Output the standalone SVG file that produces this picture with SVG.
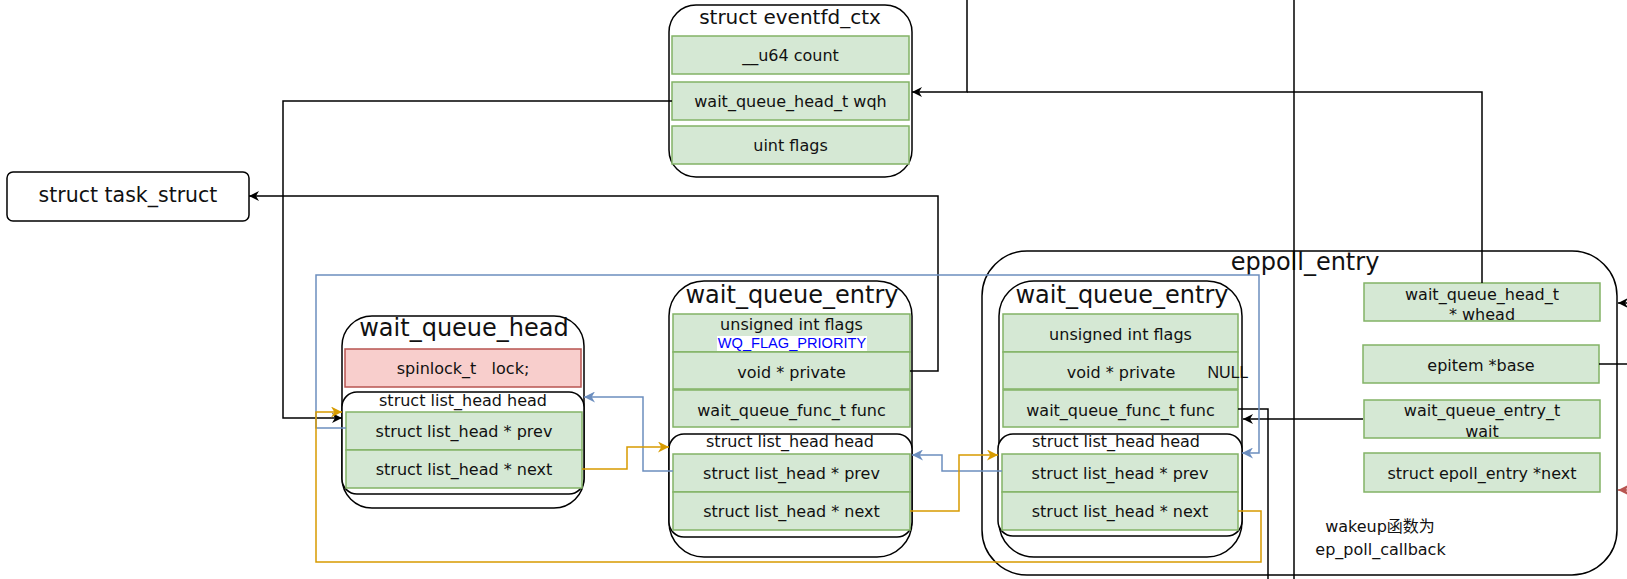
<svg xmlns="http://www.w3.org/2000/svg" width="1627" height="579" viewBox="0 0 1627 579">
<defs>
<style>
.box{fill:#fff;stroke:#000;stroke-width:1.5}
.row{fill:#d5e8d4;stroke:#82b366;stroke-width:1.5}
.red{fill:#f8cecc;stroke:#b85450;stroke-width:1.5}
.t{font-family:"DejaVu Sans","Noto Sans CJK SC",sans-serif;font-size:16px;fill:#111;text-anchor:middle}
.t20{font-size:20px}
.t24{font-size:24px}
.ln{fill:none;stroke:#000;stroke-width:1.5}
.bl{fill:none;stroke:#6c8ebf;stroke-width:1.5}
.or{fill:none;stroke:#d79b00;stroke-width:1.5}
.rd{fill:none;stroke:#b85450;stroke-width:1.5}
</style>
<marker id="aK" viewBox="0 0 10 10" refX="10" refY="5" markerWidth="11" markerHeight="10" markerUnits="userSpaceOnUse" orient="auto"><path d="M0,0 L10,5 L0,10 L3,5 Z" fill="#000"/></marker>
<marker id="aB" viewBox="0 0 10 10" refX="10" refY="5" markerWidth="11" markerHeight="11" markerUnits="userSpaceOnUse" orient="auto"><path d="M0,0 L10,5 L0,10 L3,5 Z" fill="#6c8ebf"/></marker>
<marker id="aO" viewBox="0 0 10 10" refX="10" refY="5" markerWidth="11" markerHeight="11" markerUnits="userSpaceOnUse" orient="auto"><path d="M0,0 L10,5 L0,10 L3,5 Z" fill="#d79b00"/></marker>
<marker id="aR" viewBox="0 0 10 10" refX="10" refY="5" markerWidth="11" markerHeight="11" markerUnits="userSpaceOnUse" orient="auto"><path d="M0,0 L10,5 L0,10 L3,5 Z" fill="#b85450"/></marker>
</defs>
<rect width="1627" height="579" fill="#fff"/>

<g id="eventfd_ctx">
<rect class="box" x="669" y="5" width="243" height="172" rx="27"/>
<text class="t t20" x="790" y="24">struct eventfd_ctx</text>
<rect class="row" x="672" y="36" width="237" height="38"/>
<text class="t" x="790.5" y="61">__u64 count</text>
<rect class="row" x="672" y="82" width="237" height="38"/>
<text class="t" x="790.5" y="107">wait_queue_head_t wqh</text>
<rect class="row" x="672" y="126" width="237" height="38"/>
<text class="t" x="790.5" y="151">uint flags</text>
</g>

<g id="task_struct">
<rect class="box" x="7" y="172" width="242" height="49" rx="6"/>
<text class="t" style="font-size:20.5px" x="128" y="202">struct task_struct</text>
</g>

<g id="wait_queue_head">
<rect class="box" x="342" y="316" width="242" height="192" rx="30"/>
<text class="t t24" x="464" y="336">wait_queue_head</text>
<rect class="red" x="345" y="349" width="236" height="38"/>
<text class="t" x="463" y="374" xml:space="preserve">spinlock_t   lock;</text>
<rect class="box" x="342" y="392" width="242" height="102" rx="15"/>
<text class="t" x="463" y="406">struct list_head head</text>
<rect class="row" x="346" y="412" width="236" height="38"/>
<text class="t" x="464" y="437">struct list_head * prev</text>
<rect class="row" x="346" y="450" width="236" height="38"/>
<text class="t" x="464" y="475">struct list_head * next</text>
</g>

<g id="wait_queue_entry_1">
<rect class="box" x="669" y="281" width="243" height="276" rx="35"/>
<text class="t t24" x="792" y="303">wait_queue_entry</text>
<rect class="row" x="673" y="314" width="237" height="38"/>
<text class="t" x="791.5" y="330">unsigned int flags</text>
<rect x="717" y="336" width="150" height="15" fill="#fff"/>
<text x="792" y="348" style="font-family:'Liberation Sans',Arial,sans-serif;font-size:14.6px;fill:#0000ff;text-anchor:middle">WQ_FLAG_PRIORITY</text>
<rect class="row" x="673" y="352" width="237" height="37"/>
<text class="t" x="791.5" y="378">void * private</text>
<rect class="row" x="673" y="390" width="237" height="37"/>
<text class="t" x="791.5" y="416">wait_queue_func_t func</text>
<rect class="box" x="669" y="434" width="243" height="103" rx="15"/>
<text class="t" x="790" y="447">struct list_head head</text>
<rect class="row" x="673" y="454" width="237" height="38"/>
<text class="t" x="791.5" y="479">struct list_head * prev</text>
<rect class="row" x="673" y="492" width="237" height="38"/>
<text class="t" x="791.5" y="517">struct list_head * next</text>
</g>

<g id="eppoll_entry">
<rect class="box" x="982" y="251" width="635" height="324" rx="45"/>
<text class="t t24" x="1305" y="270">eppoll_entry</text>
<rect class="row" x="1364" y="283" width="236" height="38"/>
<text class="t" x="1482" y="300">wait_queue_head_t</text>
<text class="t" x="1482" y="320">* whead</text>
<rect class="row" x="1363" y="345" width="236" height="38"/>
<text class="t" x="1481" y="371">epitem *base</text>
<rect class="row" x="1364" y="400" width="236" height="38"/>
<text class="t" x="1482" y="416">wait_queue_entry_t</text>
<text class="t" x="1482" y="437">wait</text>
<rect class="row" x="1364" y="453" width="236" height="39"/>
<text class="t" x="1482" y="479">struct epoll_entry *next</text>
<text class="t" x="1380" y="532">wakeup函数为</text>
<text class="t" x="1380.5" y="555">ep_poll_callback</text>
</g>

<g id="wait_queue_entry_2">
<rect class="box" x="999" y="281" width="243" height="276" rx="35"/>
<text class="t t24" x="1122" y="303">wait_queue_entry</text>
<rect class="row" x="1003" y="314" width="235" height="38"/>
<text class="t" x="1120.5" y="340">unsigned int flags</text>
<rect class="row" x="1003" y="352" width="235" height="37"/>
<text class="t" x="1121" y="378">void * private</text>
<text x="1228" y="378" style="font-family:'Liberation Sans',Arial,sans-serif;font-size:16px;fill:#111;text-anchor:middle">NULL</text>
<rect class="row" x="1003" y="390" width="235" height="37"/>
<text class="t" x="1120.5" y="416">wait_queue_func_t func</text>
<rect class="box" x="998" y="434" width="244" height="102" rx="15"/>
<text class="t" x="1116" y="447">struct list_head head</text>
<rect class="row" x="1002" y="454" width="236" height="38"/>
<text class="t" x="1120" y="479">struct list_head * prev</text>
<rect class="row" x="1002" y="492" width="236" height="38"/>
<text class="t" x="1120" y="517">struct list_head * next</text>
</g>

<g id="connectors">
<path class="ln" d="M672,101 L283,101 L283,418 L342,418" marker-end="url(#aK)"/>
<path class="ln" d="M910,371 L938,371 L938,196 L249,196" marker-end="url(#aK)"/>
<path class="ln" d="M967,0 L967,92 L912,92" marker-end="url(#aK)"/>
<path class="ln" d="M1482,283 L1482,92 L967,92"/>
<path class="ln" d="M1294,0 L1294,579"/>
<path class="ln" d="M1238,409 L1268,409 L1268,579"/>
<path class="ln" d="M1363,419 L1243,419" marker-end="url(#aK)"/>
<path class="ln" d="M1599,364 L1627,364"/>
<path class="ln" d="M1627,303 L1618,303" marker-end="url(#aK)"/>
<path class="rd" d="M1627,490 L1618,490" marker-end="url(#aR)"/>
<path class="bl" d="M346,428 L316,428 L316,275 L1259,275 L1259,453 L1242,453" marker-end="url(#aB)"/>
<path class="or" d="M1238,511 L1261,511 L1261,562 L316,562 L316,412 L342,412" marker-end="url(#aO)"/>
<path class="bl" d="M673,471 L643,471 L643,397 L584,397" marker-end="url(#aB)"/>
<path class="or" d="M582,469 L627,469 L627,447 L669,447" marker-end="url(#aO)"/>
<path class="bl" d="M1002,471 L942,471 L942,455 L912,455" marker-end="url(#aB)"/>
<path class="or" d="M910,511 L959,511 L959,455 L998,455" marker-end="url(#aO)"/>
</g>
</svg>
